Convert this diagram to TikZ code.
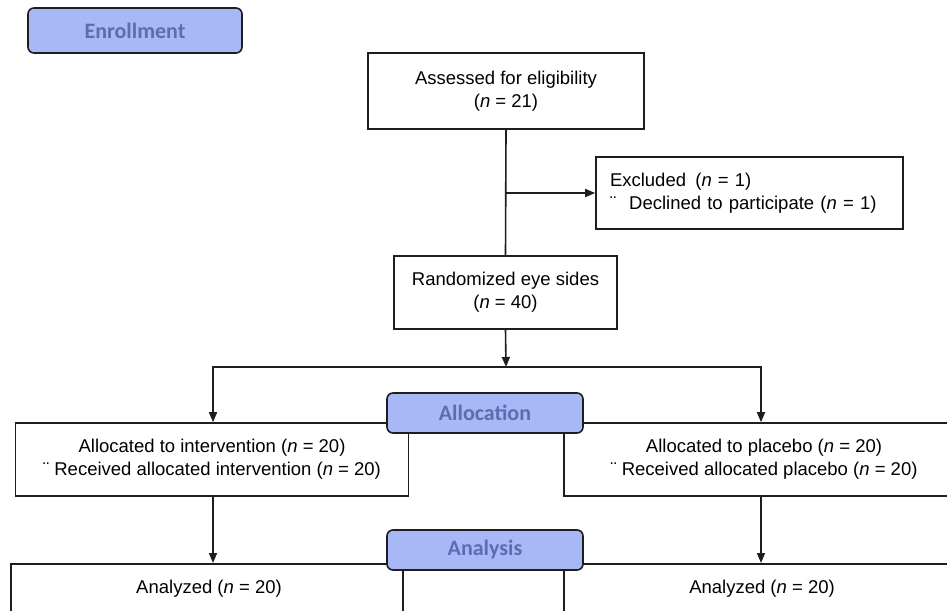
\documentclass[tikz,border=0pt]{standalone}
\usepackage{fontspec}
\setmainfont{Liberation Sans}
\newfontfamily\headfont{Carlito}
\usetikzlibrary{arrows.meta,calc}
\definecolor{hdrfill}{HTML}{A8B8F6}
\definecolor{hdrtext}{HTML}{5A6DB0}
\definecolor{lineblack}{HTML}{1E1E1E}
\tikzset{
  flowbox/.style={draw=lineblack, line width=1.6pt, fill=white, rectangle, inner sep=0pt,
    font=\fontsize{18.5}{23}\selectfont, align=center},
  header/.style={draw=lineblack, line width=1.6pt, fill=hdrfill, rounded corners=6pt,
    inner sep=0pt, text=hdrtext, font=\headfont\bfseries\fontsize{22}{26}\selectfont},
  conn/.style={draw=lineblack, line width=1.6pt},
  arr/.style={conn, -{Triangle[length=10pt,width=8pt]}}
}
\newcommand{\nn}{\textit{n}}
\begin{document}
\begin{tikzpicture}[x=1pt,y=-1pt]
\path[use as bounding box] (0,0) rectangle (947,610);
\clip (0,0) rectangle (947,610);
\fill[white] (0,0) rectangle (947,610);

% boxes
\node[flowbox, minimum width=276pt, minimum height=76pt] (assess) at (506,91)
  {Assessed for eligibility\\(\nn{} = 21)};
\node[flowbox, minimum width=307pt, minimum height=72pt, align=left, text width=279pt] (excl) at (749.5,193)
  {Excluded\, (\nn{} = 1)\\¨\hspace{13pt}Declined to participate (\nn{} = 1)};
\node[flowbox, minimum width=223pt, minimum height=73pt] (rand) at (505.5,292.5)
  {Randomized eye sides\\(\nn{} = 40)};
\node[flowbox, minimum width=393pt, minimum height=73pt] (lalloc) at (212,459.5)
  {Allocated to intervention (\nn{} = 20)\\¨ Received allocated intervention (\nn{} = 20)};
\node[flowbox, minimum width=400pt, minimum height=73pt] (ralloc) at (764,459.5)
  {Allocated to placebo (\nn{} = 20)\\¨ Received allocated placebo (\nn{} = 20)};
\node[flowbox, minimum width=392pt, minimum height=60pt, anchor=north] (lana) at (207,563) {};
\node[flowbox, minimum width=400pt, minimum height=60pt, anchor=north] (rana) at (764,563) {};
\node[font=\fontsize{18.5}{23}\selectfont] (lanatext) at (209,589) {Analyzed (\nn{} = 20)};
\node[font=\fontsize{18.5}{23}\selectfont] (ranatext) at (762,589) {Analyzed (\nn{} = 20)};

% headers
\node[header, minimum width=214pt, minimum height=45pt] (enroll) at (135,30.5) {Enrollment};
\node[header, minimum width=196pt, minimum height=40pt] (alloc) at (485,413) {Allocation};
\node[header, minimum width=196pt, minimum height=40pt] (analysis) at (485,550) {Analysis};

% connectors
\coordinate (exclsplit) at (assess.south |- excl.west);
\coordinate (split) at (506,367);
\coordinate (lx) at (213,0);
\coordinate (rx) at (761,0);
\draw[conn] (assess.south) -- (rand.north);
\draw[arr] (exclsplit) -- (excl.west);
\draw[arr] (rand.south) -- (split);
\draw[arr] (split) -| (lx |- lalloc.north);
\draw[arr] (split) -| (rx |- ralloc.north);
\draw[arr] (lx |- lalloc.south) -- (lx |- lana.north);
\draw[arr] (rx |- ralloc.south) -- (rx |- rana.north);
\end{tikzpicture}
\end{document}
